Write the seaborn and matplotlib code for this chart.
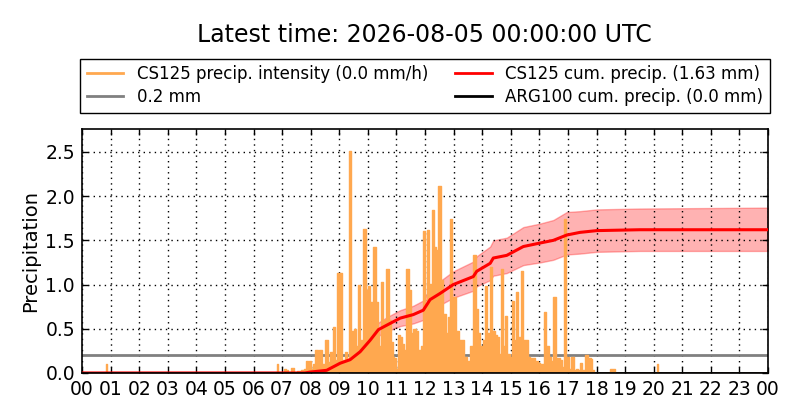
import numpy as np
import pandas as pd
import seaborn as sns
import matplotlib
matplotlib.use('Agg')
import matplotlib.pyplot as plt
from matplotlib.lines import Line2D

# precipitation intensity (mm/h), hour of day -> value
int_hours = [0.00, 0.80, 0.85, 0.90, 6.78, 6.83, 6.88, 7.05, 7.10, 7.16, 7.22, 7.39, 7.45,
             7.60, 7.70, 7.80, 7.86, 7.92, 7.98, 8.05, 8.12, 8.21, 8.27, 8.33, 8.43,
             8.56, 8.64, 8.74, 8.83, 8.89, 8.95, 9.06, 9.13, 9.24, 9.31, 9.38, 9.47,
             9.55, 9.63, 9.69, 9.75, 9.81, 9.88, 9.96, 10.05, 10.12, 10.23, 10.31, 10.37,
             10.44, 10.51, 10.58, 10.68, 10.78, 10.85, 10.89, 10.95, 11.01, 11.07, 11.16,
             11.24, 11.30, 11.38, 11.48, 11.54, 11.65, 11.72, 11.80, 11.89, 11.98, 12.03,
             12.12, 12.19, 12.27, 12.35, 12.42, 12.50, 12.59, 12.64, 12.70, 12.78, 12.84,
             12.92, 12.99, 13.05, 13.13, 13.23, 13.31, 13.40, 13.52, 13.64, 13.73, 13.81,
             13.89, 13.99, 14.07, 14.14, 14.22, 14.31, 14.39, 14.48, 14.55, 14.63, 14.70,
             14.77, 14.85, 14.92, 15.00, 15.09, 15.16, 15.23, 15.30, 15.40, 15.48, 15.56,
             15.65, 15.73, 15.82, 15.91, 15.99, 16.08, 16.14, 16.21, 16.29, 16.37, 16.44,
             16.54, 16.61, 16.69, 16.76, 16.83, 16.90, 16.96, 17.01, 17.07, 17.17, 17.23,
             17.31, 17.39, 17.45, 17.54, 17.66, 17.72, 17.77, 17.83, 17.89, 17.95, 18.45,
             18.52, 18.60, 18.68, 20.08, 20.13, 20.18, 24.00]
int_values = [0.00, 0.00, 0.10, 0.00, 0.00, 0.10, 0.00, 0.00, 0.05, 0.03, 0.00, 0.06, 0.00,
              0.02, 0.03, 0.05, 0.13, 0.04, 0.14, 0.05, 0.10, 0.26, 0.08, 0.26, 0.10,
              0.37, 0.12, 0.24, 0.52, 0.15, 1.13, 1.13, 0.15, 0.24, 0.12, 2.51, 0.48,
              0.50, 0.30, 1.00, 0.37, 0.30, 1.63, 0.94, 0.98, 0.80, 1.43, 0.80, 0.49,
              0.30, 1.03, 0.60, 1.18, 0.60, 0.35, 0.18, 0.17, 0.05, 0.43, 0.41,
              0.33, 0.26, 1.18, 0.94, 0.45, 0.50, 0.48, 0.26, 0.30, 1.61, 0.77,
              1.62, 1.01, 1.84, 1.43, 1.39, 2.12, 1.05, 0.67, 0.67, 0.45, 0.63,
              1.74, 0.86, 0.86, 0.48, 0.37, 0.37, 0.18, 0.13, 0.30, 1.33, 0.72,
              0.45, 0.30, 0.37, 0.98, 0.45, 1.20, 0.48, 0.43, 0.41, 0.22, 1.18,
              0.30, 0.64, 0.22, 0.18, 0.81, 0.37, 0.92, 0.41, 1.15, 0.37, 0.37,
              0.18, 0.17, 0.17, 0.13, 0.11, 0.10, 0.10, 0.69, 0.30, 0.18, 0.13,
              0.86, 0.17, 0.17, 0.15, 0.07, 1.74, 0.13, 0.18, 0.05, 0.18, 0.03,
              0.05, 0.03, 0.11, 0.03, 0.20, 0.08, 0.17, 0.16, 0.03, 0.00, 0.00,
              0.04, 0.04, 0.00, 0.00, 0.10, 0.00, 0.00]

# cumulative precipitation (mm) with its uncertainty band
cum_hours = [0.00, 7.80, 7.98, 8.56, 9.03, 9.38, 9.73, 10.08, 10.37, 10.66, 11.13, 11.59,
             11.94, 12.18, 12.53, 12.99, 13.69, 13.81, 14.28, 14.39, 14.86, 15.44, 16.03,
             16.49, 16.96, 17.42, 18.01, 19.52, 24.00]
cum_values = [0.00, 0.00, 0.01, 0.03, 0.11, 0.15, 0.24, 0.37, 0.49, 0.54, 0.62, 0.66,
              0.71, 0.83, 0.90, 1.00, 1.09, 1.15, 1.24, 1.30, 1.33, 1.43, 1.47,
              1.50, 1.56, 1.59, 1.61, 1.62, 1.62]
cum_lower = [0.00, 0.00, 0.01, 0.026, 0.09, 0.13, 0.20, 0.31, 0.42, 0.47, 0.53, 0.56,
             0.60, 0.71, 0.77, 0.85, 0.93, 0.98, 1.05, 1.10, 1.13, 1.22, 1.25,
             1.28, 1.34, 1.35, 1.37, 1.38, 1.38]
cum_upper = [0.00, 0.00, 0.01, 0.035, 0.13, 0.17, 0.28, 0.43, 0.57, 0.63, 0.71, 0.76,
             0.82, 0.96, 1.04, 1.15, 1.26, 1.32, 1.43, 1.50, 1.53, 1.65, 1.69,
             1.73, 1.82, 1.83, 1.85, 1.86, 1.87]

arg_hours = [0.0, 24.0]
arg_values = [0.0, 0.0]
threshold = 0.2

hour_labels = ['%02d' % h for h in range(24)] + ['00']

plt.rcParams['font.family'] = ['DejaVu Sans']
plt.rcParams['xtick.direction'] = 'in'
plt.rcParams['ytick.direction'] = 'in'
plt.rcParams['xtick.top'] = True
plt.rcParams['ytick.right'] = True

orange = '#ffa84f'
fig = plt.figure(figsize=(8, 4.2), dpi=100)
ax = fig.add_axes([0.1025, 0.112, 0.8575, 0.581])

ax.fill_between(cum_hours, cum_lower, cum_upper, color='#ff0000', alpha=0.3, lw=1, zorder=1)
ax.axhline(threshold, color='#808080', lw=2, zorder=2)
ax.fill_between(int_hours, 0, int_values, step='mid', color=orange, lw=0, zorder=3)
ax.step(int_hours, int_values, where='mid', color=orange, lw=1, zorder=3)

cum_df = pd.DataFrame({'hour': cum_hours, 'cum': cum_values})
sns.lineplot(data=cum_df, x='hour', y='cum', color='red', lw=2.2, sort=False, estimator=None,
             ax=ax, zorder=4)
sns.lineplot(x=arg_hours, y=arg_values, color='black', lw=2, sort=False, estimator=None,
             ax=ax, zorder=5)

ax.set_xlim(0, 24)
ax.set_ylim(0, 2.76)
ax.set_xticks(range(25))
ax.set_xticklabels(hour_labels, fontsize=13.5)
ax.set_yticks([0, 0.5, 1.0, 1.5, 2.0, 2.5])
ax.set_yticklabels(['0.0', '0.5', '1.0', '1.5', '2.0', '2.5'], fontsize=13.5)
ax.tick_params(length=4, width=1, pad=5)
ax.set_xlabel('')
ax.set_ylabel('Precipitation', fontsize=14)
ax.grid(True, color='black', linestyle=(0, (1, 3)), lw=1)
for s in ax.spines.values():
    s.set_linewidth(1.2)

handles = [Line2D([], [], color=orange, lw=2), Line2D([], [], color='#808080', lw=2),
           Line2D([], [], color='red', lw=2), Line2D([], [], color='black', lw=2)]
labels = ['CS125 precip. intensity (0.0 mm/h)', '0.2 mm',
          'CS125 cum. precip. (1.63 mm)', 'ARG100 cum. precip. (0.0 mm)']
leg = ax.legend(handles, labels, ncol=2, mode='expand', loc='lower left',
                bbox_to_anchor=(-0.003, 1.066, 1.006, 0.233), fontsize=12,
                fancybox=False, framealpha=1, edgecolor='black', borderaxespad=0,
                handlelength=2.2, labelspacing=0.3)
leg.get_frame().set_linewidth(1)

fig.text(0.53, 0.917, 'Latest time: 2026-08-05 00:00:00 UTC', fontsize=17,
         ha='center', va='center')

fig.savefig('out.png', dpi=100)
